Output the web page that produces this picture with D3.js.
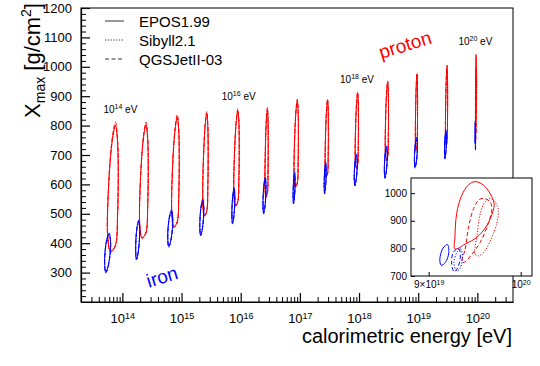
<!DOCTYPE html>
<html>
<head>
<meta charset="utf-8">
<script src="https://cdn.jsdelivr.net/npm/d3@7"></script>
<style>
  body { margin: 0; background: #fff; }
  svg { display: block; }
</style>
</head>
<body>
<div id="chart"></div>
<script>
// primary energies (log10 eV) of the 13 simulated sets, and the ones that get a label
const primaryExp = [14, 14.5, 15, 15.5, 16, 16.5, 17, 17.5, 18, 18.5, 19, 19.5, 20];
const labelledExp = [14, 16, 18, 20];

const models = ["EPOS1.99", "Sibyll2.1", "QGSJetII-03"];

// proton contours, groups 1-12: calorimetric energy range (log10 eV) and Xmax range
const protonLo = [13.751, 14.293, 14.835, 15.360, 15.885, 16.411, 16.903, 17.428, 17.936, 18.444, 18.953, 19.461];
const protonHi = [13.920, 14.429, 14.954, 15.445, 15.970, 16.462, 16.971, 17.479, 17.987, 18.495, 18.987, 19.495];
const protonTopEPOS   = [800, 802, 828, 840, 850, 855, 884, 886, 910, 948, 975, 1002];
const protonTopSibyll = [803, 805, 830, 843, 852, 857, 886, 887, 911, 946, 972, 996];
const protonTopQGS    = [812, 812, 838, 848, 857, 861, 890, 890, 914, 952, 979, 1006];
const protonBotEPOS   = [372, 418, 455, 493, 527, 557, 591, 625, 656, 683, 717, 734];
const protonBotSibyll = [375, 420, 458, 495, 530, 560, 594, 628, 660, 690, 720, 740];
const protonBotQGS    = [370, 416, 453, 491, 525, 555, 589, 622, 652, 680, 712, 730];

// iron contours, groups 1-12
const ironLo = [13.700, 14.225, 14.767, 15.309, 15.851, 16.377, 16.886, 17.411, 17.919, 18.428, 18.936, 19.444];
const ironHi = [13.802, 14.293, 14.852, 15.377, 15.902, 16.428, 16.920, 17.445, 17.970, 18.478, 18.987, 19.478];
const ironTopEPOS   = [435, 479, 513, 550, 588, 625, 642, 676, 703, 731, 761, 785];
const ironTopSibyll = [428, 472, 505, 542, 580, 615, 635, 668, 695, 722, 752, 775];
const ironTopQGS    = [430, 474, 507, 544, 582, 618, 637, 670, 697, 725, 755, 778];
const ironBotEPOS   = [302, 346, 390, 428, 469, 503, 537, 571, 598, 625, 659, 690];
const ironBotSibyll = [300, 343, 386, 425, 465, 500, 533, 567, 594, 620, 655, 686];
const ironBotQGS    = [299, 344, 387, 425, 466, 500, 534, 568, 595, 621, 656, 687];

// 10^20 eV contours: [energy / 1e19 eV, Xmax]
const p20EPOS = [[9.275, 798], [9.275, 840], [9.293, 926], [9.348, 993], [9.42, 1030], [9.49, 1042], [9.58, 1030],
                 [9.655, 999], [9.70, 963], [9.685, 932], [9.62, 883], [9.51, 840], [9.385, 816]];
const p20Sibyll = [[9.49, 779], [9.51, 840], [9.547, 926], [9.60, 969], [9.655, 981], [9.71, 969], [9.747, 938],
                   [9.728, 889], [9.674, 840], [9.60, 792], [9.53, 773]];
const p20QGS = [[9.348, 749], [9.385, 798], [9.42, 877], [9.475, 944], [9.53, 975], [9.58, 981], [9.655, 969],
                [9.674, 938], [9.62, 877], [9.547, 822], [9.457, 779], [9.385, 752]];
const fe20EPOS = [[9.196, 814], [9.21, 785], [9.174, 749], [9.13, 739], [9.116, 761], [9.149, 801]];
const fe20Sibyll = [[9.333, 800], [9.355, 770], [9.33, 728], [9.293, 718], [9.264, 749], [9.30, 788]];
const fe20QGS = [[9.312, 800], [9.333, 775], [9.304, 730], [9.268, 715], [9.24, 743], [9.257, 785]];

const yTicks = [300, 400, 500, 600, 700, 800, 900, 1000, 1100, 1200];
const xTickExp = [14, 15, 16, 17, 18, 19, 20];
const insetYTicks = [700, 800, 900, 1000];

// ---------------------------------------------------------------
const W = 540, H = 366;
const FONT = '"Liberation Sans", Arial, Helvetica, sans-serif';
const RED = "#ff0000", BLUE = "#0000ff";
const DASH = { "EPOS1.99": null, "Sibyll2.1": "1.2,1.6", "QGSJetII-03": "4,2.5" };

// loop outlines in unit box (u along energy, v along Xmax)
const PROTON_SHAPE = [[0.3, 0], [0.02, 0.1], [0.12, 0.55], [0.5, 0.9], [0.78, 1], [1, 0.86], [1, 0.3], [0.75, 0.04]];
const IRON_SHAPE = [[0.2, 0], [0, 0.25], [0.3, 0.8], [0.75, 1], [1, 0.75], [0.65, 0.2]];

const svg = d3.select("#chart").append("svg")
  .attr("width", W).attr("height", H)
  .style("font-family", FONT);

const x = d3.scaleLog().domain([2e13, 4e20]).range([81, 513]);
const y = d3.scaleLinear().domain([200, 1200]).range([302, 8]);

function loop(lo, hi, bot, top, shape) {
  return shape.map(([u, v]) => [Math.pow(10, lo + u * (hi - lo)), bot + v * (top - bot)]);
}

const line = d3.line()
  .x(d => x(d[0])).y(d => y(d[1]))
  .curve(d3.curveCatmullRomClosed.alpha(0.5));

// frame
svg.append("rect")
  .attr("x", 81).attr("y", 8).attr("width", 432).attr("height", 294)
  .attr("fill", "none").attr("stroke", "#000").attr("stroke-width", 1);

// contours
const protonSets = {
  "EPOS1.99": [protonTopEPOS, protonBotEPOS, p20EPOS],
  "Sibyll2.1": [protonTopSibyll, protonBotSibyll, p20Sibyll],
  "QGSJetII-03": [protonTopQGS, protonBotQGS, p20QGS]
};
const ironSets = {
  "EPOS1.99": [ironTopEPOS, ironBotEPOS, fe20EPOS],
  "Sibyll2.1": [ironTopSibyll, ironBotSibyll, fe20Sibyll],
  "QGSJetII-03": [ironTopQGS, ironBotQGS, fe20QGS]
};

const contours = svg.append("g").attr("fill", "none").attr("stroke-width", 1);

function drawParticle(sets, lo, hi, shape, color) {
  models.forEach(m => {
    const [tops, bots, last] = sets[m];
    tops.forEach((t, i) => {
      contours.append("path")
        .attr("d", line(loop(lo[i], hi[i], bots[i], t, shape)))
        .attr("stroke", color)
        .attr("stroke-dasharray", DASH[m]);
    });
    contours.append("path")
      .attr("d", line(last.map(d => [d[0] * 1e19, d[1]])))
      .attr("stroke", color)
      .attr("stroke-dasharray", DASH[m]);
  });
}
drawParticle(protonSets, protonLo, protonHi, PROTON_SHAPE, RED);
drawParticle(ironSets, ironLo, ironHi, IRON_SHAPE, BLUE);

// energy labels above groups
const groupTop = primaryExp.map((e, i) => i < 12
  ? Math.max(protonTopEPOS[i], protonTopSibyll[i], protonTopQGS[i])
  : d3.max(p20EPOS, d => d[1]));
labelledExp.forEach(e => {
  const i = primaryExp.indexOf(e);
  const t = svg.append("text")
    .attr("x", x(Math.pow(10, e)) - 2)
    .attr("y", y(groupTop[i]) - 9)
    .attr("text-anchor", "middle")
    .attr("font-size", 10)
    .attr("fill", "#000");
  t.append("tspan").text("10");
  t.append("tspan").attr("font-size", 7).attr("dy", -4).text(e);
  t.append("tspan").attr("dy", 4).text(" eV");
});

// x axis
const minorX = [];
for (let n = 13; n <= 20; n++) {
  for (let k = 2; k <= 9; k++) {
    const v = k * Math.pow(10, n);
    if (v > 2e13 && v < 4e20) minorX.push(v);
  }
}
svg.append("g")
  .attr("transform", "translate(0,302)")
  .call(d3.axisBottom(x).tickValues(minorX).tickSize(-5).tickSizeOuter(0).tickFormat(""))
  .call(g => g.select(".domain").remove());

const xAxis = svg.append("g")
  .attr("transform", "translate(0,302)")
  .call(d3.axisBottom(x)
    .tickValues(xTickExp.map(e => Math.pow(10, e)))
    .tickSize(-9).tickSizeOuter(0).tickPadding(12));
xAxis.selectAll("path, line").attr("stroke", "#000").attr("stroke-width", 1.2);
xAxis.selectAll(".tick text")
  .attr("font-size", 13).attr("font-family", FONT).attr("fill", "#000")
  .each(function (d) {
    const t = d3.select(this);
    const e = Math.round(Math.log10(d));
    t.text(null);
    t.append("tspan").text("10");
    t.append("tspan").attr("font-size", 9).attr("dy", "-0.5em").text(e);
  });

// y axis
const minorY = d3.range(220, 1200, 20).filter(v => v % 100 !== 0);
svg.append("g")
  .attr("transform", "translate(81,0)")
  .call(d3.axisLeft(y).tickValues(minorY).tickSize(-5).tickSizeOuter(0).tickFormat(""))
  .call(g => g.select(".domain").remove());

const yAxis = svg.append("g")
  .attr("transform", "translate(81,0)")
  .call(d3.axisLeft(y).tickValues(yTicks).tickFormat(d3.format("d"))
    .tickSize(-9).tickSizeOuter(0).tickPadding(9));
yAxis.selectAll("path, line").attr("stroke", "#000").attr("stroke-width", 1.2);
yAxis.selectAll(".tick text")
  .attr("font-size", 13).attr("font-family", FONT).attr("fill", "#000");

// axis titles
svg.append("text")
  .attr("x", 512).attr("y", 343)
  .attr("text-anchor", "end")
  .attr("font-size", 20)
  .text("calorimetric energy [eV]");

const yt = svg.append("text")
  .attr("transform", "translate(40,3) rotate(-90)")
  .attr("text-anchor", "end")
  .attr("font-size", 22);
yt.append("tspan").text("X");
yt.append("tspan").attr("font-size", 14).attr("dy", 5).text("max");
yt.append("tspan").attr("dy", -5).text(" [g/cm");
yt.append("tspan").attr("font-size", 14).attr("dy", -9).text("2");
yt.append("tspan").attr("dy", 9).text("]");

// legend
const legend = svg.append("g");
models.forEach((m, i) => {
  const ly = 21 + i * 19;
  legend.append("line")
    .attr("x1", 105).attr("x2", 124).attr("y1", ly).attr("y2", ly)
    .attr("stroke", "#333").attr("stroke-width", 1)
    .attr("stroke-dasharray", DASH[m]);
  legend.append("text")
    .attr("x", 139).attr("y", ly + 5.5)
    .attr("font-size", 15)
    .text(m);
});

// particle labels
svg.append("text")
  .attr("transform", "translate(407,51) rotate(-17)")
  .attr("text-anchor", "middle")
  .attr("font-size", 19).attr("fill", RED)
  .text("proton");
svg.append("text")
  .attr("transform", "translate(164,283) rotate(-17)")
  .attr("text-anchor", "middle")
  .attr("font-size", 19).attr("fill", BLUE)
  .text("iron");

// ---------------- inset: 10^20 eV zoom ----------------
const xi = d3.scaleLog().domain([8.82e19, 1.013e20]).range([411, 532]);
const yi = d3.scaleLinear().domain([700, 1055]).range([276, 178]);

const inset = svg.append("g");
inset.append("rect")
  .attr("x", 411).attr("y", 178).attr("width", 121).attr("height", 98)
  .attr("fill", "#fff").attr("stroke", "#000").attr("stroke-width", 1);

const iline = d3.line()
  .x(d => xi(d[0] * 1e19)).y(d => yi(d[1]))
  .curve(d3.curveCatmullRomClosed.alpha(0.5));

const insetSets = [
  [p20EPOS, "EPOS1.99", RED], [p20Sibyll, "Sibyll2.1", RED], [p20QGS, "QGSJetII-03", RED],
  [fe20EPOS, "EPOS1.99", BLUE], [fe20Sibyll, "Sibyll2.1", BLUE], [fe20QGS, "QGSJetII-03", BLUE]
];
insetSets.forEach(([pts, m, c]) => {
  inset.append("path")
    .attr("d", iline(pts))
    .attr("fill", "none").attr("stroke", c).attr("stroke-width", 1)
    .attr("stroke-dasharray", DASH[m]);
});

const iy = inset.append("g")
  .attr("transform", "translate(411,0)")
  .call(d3.axisLeft(yi).tickValues(insetYTicks).tickFormat(d3.format("d"))
    .tickSize(-4).tickSizeOuter(0).tickPadding(4));
iy.select(".domain").remove();
iy.selectAll(".tick text").attr("font-size", 10).attr("font-family", FONT).attr("fill", "#000");

const ix = inset.append("g")
  .attr("transform", "translate(0,276)")
  .call(d3.axisBottom(xi).tickValues([9e19, 1e20]).tickSize(-4).tickSizeOuter(0).tickPadding(5));
ix.select(".domain").remove();
ix.selectAll(".tick text")
  .attr("font-size", 10).attr("font-family", FONT).attr("fill", "#000")
  .each(function (d) {
    const t = d3.select(this);
    const e = Math.floor(Math.log10(d) + 1e-9);
    const mant = Math.round(d / Math.pow(10, e));
    t.text(null);
    t.append("tspan").text(mant === 1 ? "10" : mant + "\u00d710");
    t.append("tspan").attr("font-size", 7).attr("dy", "-0.5em").text(e);
  });
</script>
</body>
</html>
